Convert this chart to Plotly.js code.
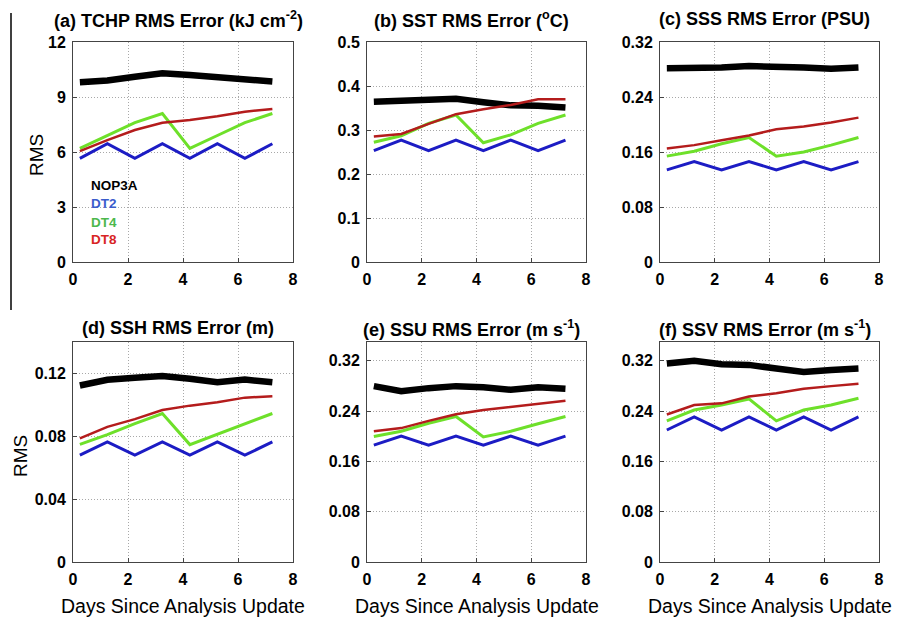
<!DOCTYPE html>
<html>
<head>
<meta charset="utf-8">
<script src="https://cdn.plot.ly/plotly-3.0.1.min.js"></script>
<style>
  html, body { margin: 0; padding: 0; background: #fff; }
  #chart { width: 897px; height: 621px; }
</style>
</head>
<body>
<div id="chart"></div>
<script>
// Forecast days after each analysis update
const days = [0.25, 1.25, 2.25, 3.25, 4.25, 5.25, 6.25, 7.25];
const seriesNames = ['NOP3A', 'DT2', 'DT4', 'DT8'];

// (a) TCHP RMS error, kJ cm^-2
const tchpNOP3A = [9.8, 9.9, 10.1, 10.3, 10.2, 10.1, 10.0, 9.85];
const tchpDT2   = [5.65, 6.45, 5.65, 6.45, 5.65, 6.45, 5.65, 6.45];
const tchpDT4   = [6.2, 6.9, 7.6, 8.1, 6.2, 6.9, 7.6, 8.1];
const tchpDT8   = [6.05, 6.65, 7.2, 7.6, 7.75, 7.95, 8.2, 8.35];

// (b) SST RMS error, deg C
const sstNOP3A = [0.364, 0.366, 0.367, 0.371, 0.363, 0.356, 0.355, 0.351];
const sstDT2   = [0.253, 0.277, 0.253, 0.277, 0.253, 0.277, 0.253, 0.277];
const sstDT4   = [0.272, 0.287, 0.315, 0.334, 0.271, 0.289, 0.315, 0.334];
const sstDT8   = [0.285, 0.291, 0.314, 0.336, 0.347, 0.357, 0.370, 0.370];

// (c) SSS RMS error, PSU
const sssNOP3A = [0.282, 0.282, 0.283, 0.285, 0.285, 0.283, 0.281, 0.283];
const sssDT2   = [0.134, 0.146, 0.134, 0.146, 0.134, 0.146, 0.134, 0.146];
const sssDT4   = [0.154, 0.161, 0.172, 0.181, 0.154, 0.160, 0.170, 0.181];
const sssDT8   = [0.165, 0.170, 0.177, 0.184, 0.193, 0.197, 0.203, 0.210];

// (d) SSH RMS error, m
const sshNOP3A = [0.1123, 0.116, 0.1172, 0.1183, 0.1166, 0.1144, 0.1161, 0.1144];
const sshDT2   = [0.068, 0.0764, 0.068, 0.0764, 0.068, 0.0764, 0.068, 0.0764];
const sshDT4   = [0.0749, 0.081, 0.088, 0.0945, 0.0747, 0.0813, 0.0883, 0.0945];
const sshDT8   = [0.0787, 0.086, 0.0909, 0.0967, 0.0995, 0.1016, 0.1046, 0.1055];

// (e) SSU RMS error, m s^-1
const ssuNOP3A = [0.2798, 0.2717, 0.2766, 0.2798, 0.278, 0.274, 0.278, 0.2755];
const ssuDT2   = [0.186, 0.2003, 0.186, 0.2003, 0.186, 0.2003, 0.186, 0.2003];
const ssuDT4   = [0.1998, 0.208, 0.2207, 0.2315, 0.199, 0.208, 0.220, 0.2315];
const ssuDT8   = [0.208, 0.213, 0.2245, 0.235, 0.2417, 0.2465, 0.2513, 0.2567];

// (f) SSV RMS error, m s^-1
const ssvNOP3A = [0.3158, 0.320, 0.3147, 0.3136, 0.3077, 0.3024, 0.3056, 0.3077];
const ssvDT2   = [0.210, 0.231, 0.210, 0.231, 0.210, 0.231, 0.210, 0.231];
const ssvDT4   = [0.2245, 0.2417, 0.2497, 0.2594, 0.2245, 0.2417, 0.2497, 0.2605];
const ssvDT8   = [0.2347, 0.2497, 0.2524, 0.2632, 0.2685, 0.2755, 0.2798, 0.2836];

// Tick values and labels
const xTicks = [0, 2, 4, 6, 8];
const xTickText = ['0', '2', '4', '6', '8'];
const tchpTicks = [0, 3, 6, 9, 12];
const tchpTickText = ['0', '3', '6', '9', '12'];
const sstTicks = [0, 0.1, 0.2, 0.3, 0.4, 0.5];
const sstTickText = ['0', '0.1', '0.2', '0.3', '0.4', '0.5'];
const sssTicks = [0, 0.08, 0.16, 0.24, 0.32];
const sssTickText = ['0', '0.08', '0.16', '0.24', '0.32'];
const sshTicks = [0, 0.04, 0.08, 0.12];
const sshTickText = ['0', '0.04', '0.08', '0.12'];
const velTicks = [0, 0.08, 0.16, 0.24, 0.32];
const velTickText = ['0', '0.08', '0.16', '0.24', '0.32'];

const panelTitles = [
  '(a) TCHP RMS Error (kJ cm<sup>-2</sup>)',
  '(b) SST RMS Error (<sup>o</sup>C)',
  '(c) SSS RMS Error (PSU)',
  '(d) SSH RMS Error (m)',
  '(e) SSU RMS Error (m s<sup>-1</sup>)',
  '(f) SSV RMS Error (m s<sup>-1</sup>)'
];
const xTitle = 'Days Since Analysis Update';
const yTitle = 'RMS';

// ---- layout geometry (pixels) ----
const W = 897, H = 621;
const px = v => v / W;
const py = v => 1 - v / H;
const cols = [[73, 293], [367, 586], [660, 879]];
const rows = [[42, 262], [342, 562]];

const lineColors = ['#000000', '#1c1cc4', '#6ee02a', '#b41c1c'];
const lineWidths = [6.5, 3, 3, 2.5];
const labelColors = ['#000000', '#3a5ccc', '#4cb84c', '#d82424'];
const FONT = 'Liberation Sans, Arial, Helvetica, sans-serif';

const panels = [
  { data: [tchpNOP3A, tchpDT2, tchpDT4, tchpDT8], range: [0, 12],   tv: tchpTicks, tt: tchpTickText },
  { data: [sstNOP3A, sstDT2, sstDT4, sstDT8],     range: [0, 0.5],  tv: sstTicks,  tt: sstTickText },
  { data: [sssNOP3A, sssDT2, sssDT4, sssDT8],     range: [0, 0.32], tv: sssTicks,  tt: sssTickText },
  { data: [sshNOP3A, sshDT2, sshDT4, sshDT8],     range: [0, 0.14], tv: sshTicks,  tt: sshTickText },
  { data: [ssuNOP3A, ssuDT2, ssuDT4, ssuDT8],     range: [0, 0.35], tv: velTicks,  tt: velTickText },
  { data: [ssvNOP3A, ssvDT2, ssvDT4, ssvDT8],     range: [0, 0.35], tv: velTicks,  tt: velTickText }
];

const traces = [];
const layout = {
  width: W, height: H,
  margin: { l: 0, r: 0, t: 0, b: 0 },
  paper_bgcolor: '#ffffff',
  plot_bgcolor: '#ffffff',
  showlegend: false,
  font: { family: FONT, color: '#000' },
  annotations: [],
  shapes: [
    { type: 'line', xref: 'paper', yref: 'paper',
      x0: px(11), x1: px(11), y0: py(13), y1: py(310),
      line: { color: '#000', width: 1.5 } }
  ]
};

const axisCommon = {
  showline: true, mirror: true, linecolor: '#444444', linewidth: 1,
  showgrid: true, gridcolor: '#a8a8a8', griddash: '1px,2px', gridwidth: 1,
  zeroline: false, ticks: 'inside', ticklen: 4, tickcolor: '#444444',
  tickfont: { family: FONT, size: 16, weight: 'bold', color: '#000' },
  fixedrange: true
};

panels.forEach((p, i) => {
  const r = Math.floor(i / 3), c = i % 3;
  const n = i + 1;
  const xa = 'x' + (n === 1 ? '' : n), ya = 'y' + (n === 1 ? '' : n);
  const xkey = 'xaxis' + (n === 1 ? '' : n), ykey = 'yaxis' + (n === 1 ? '' : n);

  layout[xkey] = Object.assign({}, axisCommon, {
    domain: [px(cols[c][0]), px(cols[c][1])], anchor: ya,
    range: [0, 8], tickvals: xTicks, ticktext: xTickText, ticklabelstandoff: 3
  });
  layout[ykey] = Object.assign({}, axisCommon, {
    domain: [py(rows[r][1]), py(rows[r][0])], anchor: xa,
    range: p.range, tickvals: p.tv, ticktext: p.tt, ticklabelstandoff: 3
  });

  p.data.forEach((vals, k) => {
    traces.push({
      type: 'scatter', mode: 'lines', x: days, y: vals,
      xaxis: xa, yaxis: ya, name: seriesNames[k],
      line: { color: lineColors[k], width: lineWidths[k] },
      hoverinfo: 'skip'
    });
  });

  // panel title
  const cx = (cols[c][0] + cols[c][1]) / 2 - 5;
  layout.annotations.push({
    xref: 'paper', yref: 'paper', x: px(cx), y: py(r === 0 ? 19 : 328),
    xanchor: 'center', yanchor: 'middle', showarrow: false,
    text: panelTitles[i],
    font: { family: FONT, size: 18, weight: 'bold', color: '#000' }
  });

  // x-axis titles on the bottom row
  if (r === 1) {
    layout.annotations.push({
      xref: 'paper', yref: 'paper', x: px((cols[c][0] + cols[c][1]) / 2), y: py(606),
      xanchor: 'center', yanchor: 'middle', showarrow: false,
      text: xTitle, font: { family: FONT, size: 19.5, color: '#000' }
    });
  }
});

// y-axis titles on the left column
layout.annotations.push({
  xref: 'paper', yref: 'paper', x: px(36), y: py(155),
  xanchor: 'center', yanchor: 'middle', showarrow: false, textangle: -90,
  text: yTitle, font: { family: FONT, size: 19, color: '#000' }
});
layout.annotations.push({
  xref: 'paper', yref: 'paper', x: px(20), y: py(456),
  xanchor: 'center', yanchor: 'middle', showarrow: false, textangle: -90,
  text: yTitle, font: { family: FONT, size: 19, color: '#000' }
});

// series labels inside panel (a)
const labelY = [185, 203, 222, 240];
seriesNames.forEach((name, k) => {
  layout.annotations.push({
    xref: 'paper', yref: 'paper', x: px(89), y: py(labelY[k]),
    xanchor: 'left', yanchor: 'middle', showarrow: false,
    text: name, font: { family: FONT, size: 13.5, weight: 'bold', color: labelColors[k] }
  });
});

Plotly.newPlot('chart', traces, layout, { displayModeBar: false, staticPlot: true });
</script>
</body>
</html>
